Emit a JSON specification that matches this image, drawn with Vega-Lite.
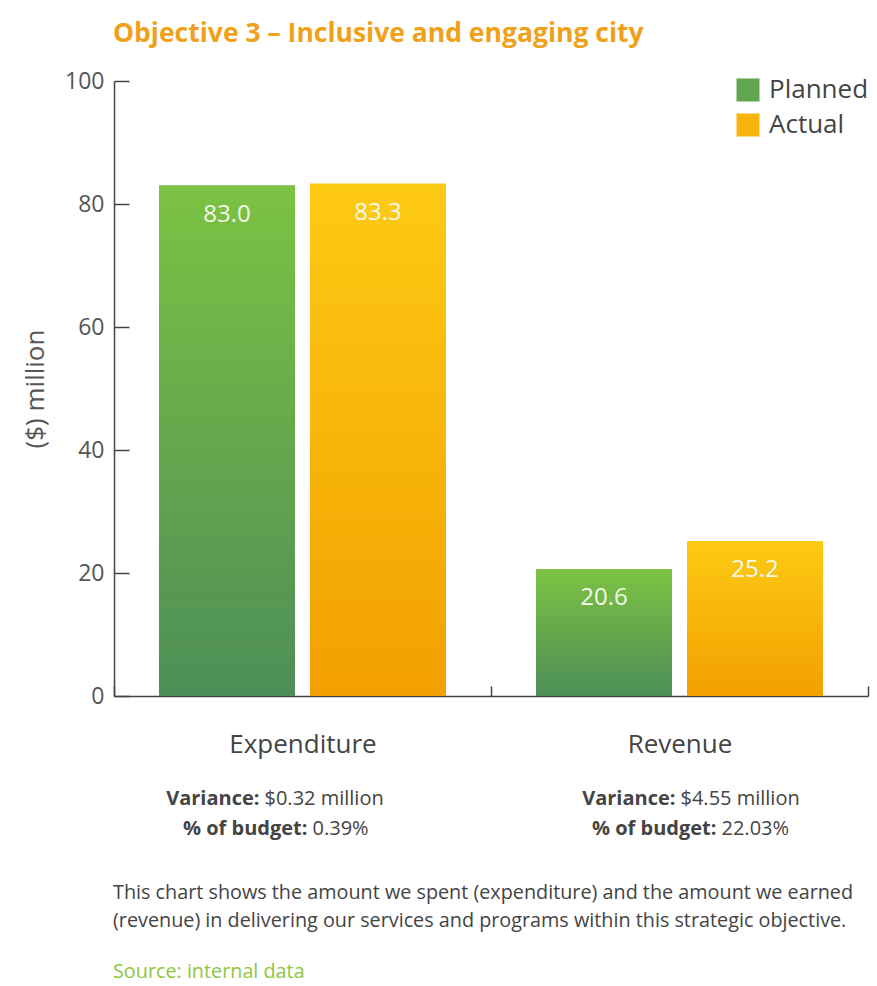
{
  "$schema": "https://vega.github.io/schema/vega-lite/v6.json",
  "background": "white",
  "padding": {"left": 22, "top": 20, "right": 5, "bottom": 5},
  "config": {"font": "Open Sans", "view": {"stroke": null}, "concat": {"spacing": 27}},
  "datasets": {
    "bars": [
      {"category": "Expenditure", "series": "Planned", "value": 83.0},
      {"category": "Expenditure", "series": "Actual", "value": 83.3},
      {"category": "Revenue", "series": "Planned", "value": 20.6},
      {"category": "Revenue", "series": "Actual", "value": 25.2}
    ],
    "notes": [
      {"category": "Expenditure", "line": 1, "label": "Variance:", "value": "$0.32 million"},
      {"category": "Expenditure", "line": 2, "label": "% of budget:", "value": "0.39%"},
      {"category": "Revenue", "line": 1, "label": "Variance:", "value": "$4.55 million"},
      {"category": "Revenue", "line": 2, "label": "% of budget:", "value": "22.03%"}
    ]
  },
  "vconcat": [
    {
      "title": {"text": "Objective 3 – Inclusive and engaging city", "anchor": "start", "frame": "group", "fontSize": 26.5, "fontWeight": "bold", "color": "#efa11a", "dx": -1, "offset": 23},
      "width": 754,
      "height": 615,
      "data": {"name": "bars"},
      "encoding": {
        "x": {
          "field": "category", "type": "nominal", "sort": ["Expenditure", "Revenue"],
          "scale": {"paddingInner": 0, "paddingOuter": 0},
          "axis": {"title": null, "labelAngle": 0, "labelFontSize": 26, "labelColor": "#444", "labelPadding": 45, "tickBand": "extent", "tickSize": -10, "tickColor": "#444", "domainColor": "#444", "domainWidth": 1.5, "tickWidth": 1.5}
        },
        "xOffset": {"field": "series", "type": "nominal", "sort": ["Planned", "Actual"], "scale": {"domain": ["Planned", "Actual"], "paddingInner": 0.0993, "paddingOuter": 0.298}},
        "y": {
          "field": "value", "type": "quantitative", "scale": {"domain": [0, 100]},
          "axis": {"title": "($) million", "titleFontSize": 26, "titleFontWeight": "normal", "titleColor": "#555", "titlePadding": 16, "values": [0, 20, 40, 60, 80, 100], "grid": false, "labelFontSize": 23, "labelColor": "#555", "labelPadding": 25, "tickSize": -15, "tickColor": "#444", "domainColor": "#444", "domainWidth": 1.5, "tickWidth": 1.5}
        }
      },
      "layer": [
        {
          "mark": {"type": "bar"},
          "encoding": {
            "color": {
              "field": "series", "type": "nominal",
              "scale": {"domain": ["Planned", "Actual"], "range": ["#5fa64f", "#f7b40c"]},
              "legend": {"title": null, "orient": "none", "legendX": 621, "legendY": -4, "symbolType": "square", "symbolSize": 529, "symbolStrokeWidth": 0, "labelFontSize": 26, "labelColor": "#444", "labelOffset": 8, "rowPadding": 9, "padding": 0}
            }
          }
        },
        {
          "transform": [{"filter": "datum.series === 'Planned'"}],
          "mark": {"type": "bar", "color": {"gradient": "linear", "x1": 0, "y1": 0, "x2": 0, "y2": 1, "stops": [{"offset": 0, "color": "#7cc243"}, {"offset": 1, "color": "#4d8e57"}]}}
        },
        {
          "transform": [{"filter": "datum.series === 'Actual'"}],
          "mark": {"type": "bar", "color": {"gradient": "linear", "x1": 0, "y1": 0, "x2": 0, "y2": 1, "stops": [{"offset": 0, "color": "#fdca14"}, {"offset": 1, "color": "#f2a000"}]}}
        },
        {
          "mark": {"type": "text", "baseline": "top", "dy": 17, "fontSize": 24, "color": "#f3f9e8"},
          "encoding": {"text": {"field": "value", "type": "quantitative", "format": ".1f"}}
        }
      ]
    },
    {
      "width": 754,
      "height": 60,
      "data": {"name": "notes"},
      "title": {
        "text": ["This chart shows the amount we spent (expenditure) and the amount we earned", "(revenue) in delivering our services and programs within this strategic objective."],
        "subtitle": "Source: internal data",
        "orient": "bottom", "anchor": "start", "frame": "group", "dx": -1,
        "fontSize": 19.8, "fontWeight": "normal", "color": "#444", "lineHeight": 28, "offset": 39,
        "subtitleFontSize": 19.8, "subtitleColor": "#8fc640", "subtitlePadding": 31
      },
      "encoding": {
        "x": {"field": "category", "type": "nominal", "sort": ["Expenditure", "Revenue"], "scale": {"paddingInner": 0, "paddingOuter": 0}, "axis": null},
        "y": {"field": "line", "type": "ordinal", "scale": {"type": "point", "padding": 0.5}, "axis": null}
      },
      "layer": [
        {"transform": [{"filter": "datum.category === 'Expenditure' && datum.line === 1"}], "mark": {"type": "text", "align": "right", "fontWeight": "bold", "fontSize": 20, "color": "#444", "dx": -43}, "encoding": {"text": {"field": "label"}}},
        {"transform": [{"filter": "datum.category === 'Expenditure' && datum.line === 1"}], "mark": {"type": "text", "align": "left", "fontSize": 20, "color": "#444", "dx": -38}, "encoding": {"text": {"field": "value"}}},
        {"transform": [{"filter": "datum.category === 'Expenditure' && datum.line === 2"}], "mark": {"type": "text", "align": "right", "fontWeight": "bold", "fontSize": 20, "color": "#444", "dx": 5}, "encoding": {"text": {"field": "label"}}},
        {"transform": [{"filter": "datum.category === 'Expenditure' && datum.line === 2"}], "mark": {"type": "text", "align": "left", "fontSize": 20, "color": "#444", "dx": 10}, "encoding": {"text": {"field": "value"}}},
        {"transform": [{"filter": "datum.category === 'Revenue' && datum.line === 1"}], "mark": {"type": "text", "align": "right", "fontWeight": "bold", "fontSize": 20, "color": "#444", "dx": -4}, "encoding": {"text": {"field": "label"}}},
        {"transform": [{"filter": "datum.category === 'Revenue' && datum.line === 1"}], "mark": {"type": "text", "align": "left", "fontSize": 20, "color": "#444", "dx": 1}, "encoding": {"text": {"field": "value"}}},
        {"transform": [{"filter": "datum.category === 'Revenue' && datum.line === 2"}], "mark": {"type": "text", "align": "right", "fontWeight": "bold", "fontSize": 20, "color": "#444", "dx": 37}, "encoding": {"text": {"field": "label"}}},
        {"transform": [{"filter": "datum.category === 'Revenue' && datum.line === 2"}], "mark": {"type": "text", "align": "left", "fontSize": 20, "color": "#444", "dx": 42}, "encoding": {"text": {"field": "value"}}}
      ]
    }
  ]
}
